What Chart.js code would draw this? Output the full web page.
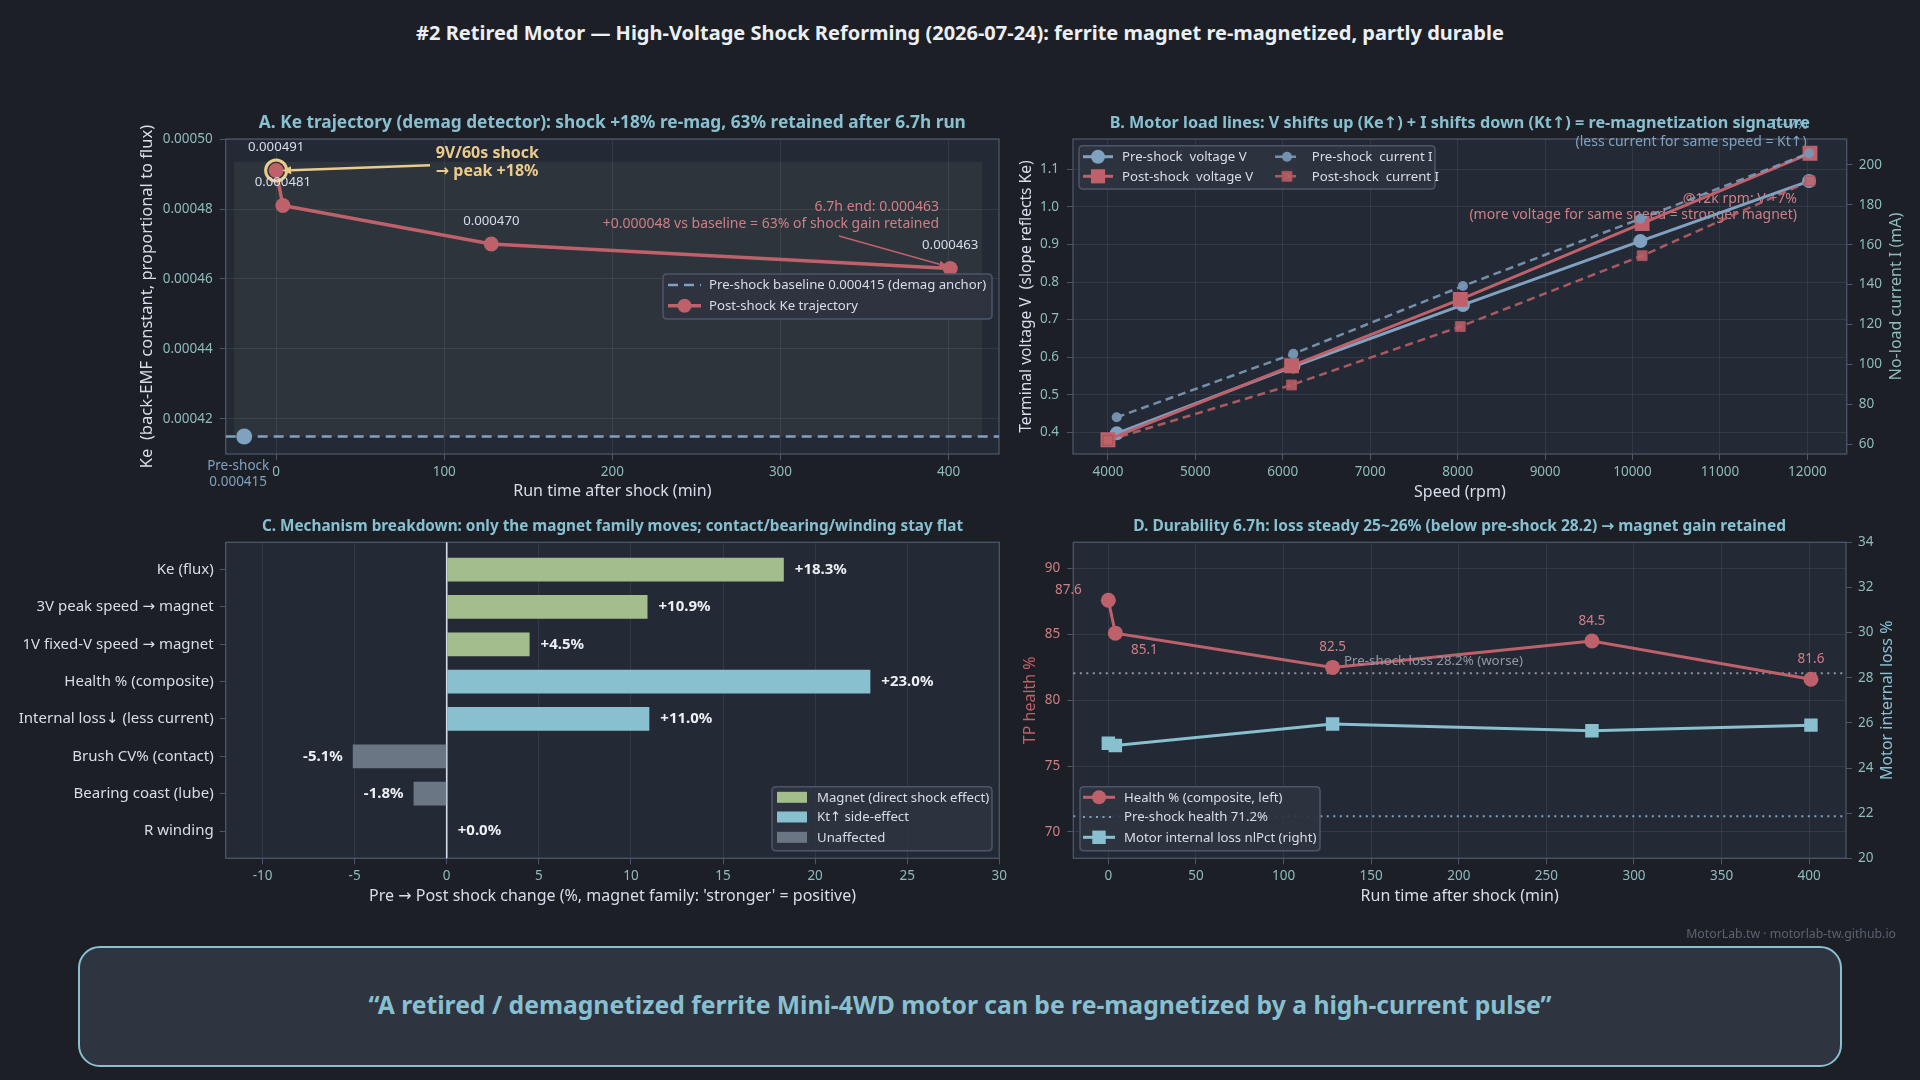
<!DOCTYPE html>
<html><head><meta charset="utf-8">
<script src="https://cdn.jsdelivr.net/npm/chart.js@4.4.1/dist/chart.umd.min.js"></script>
<style>
html,body{margin:0;padding:0;background:#1c1f26;}
#wrap{position:relative;width:1920px;height:1080px;overflow:hidden;font-family:'Noto Sans','DejaVu Sans',sans-serif;}
canvas.layer{position:absolute;left:0;top:0;width:1920px;height:1080px;}
#title{position:absolute;left:0;top:19px;width:1920px;text-align:center;color:#eceff4;font-weight:bold;font-size:20px;line-height:28px;}
#quote{position:absolute;left:78px;top:946px;width:1764px;height:121px;box-sizing:border-box;border:2px solid #88c0d0;border-radius:22px;background:#2e3440;display:flex;align-items:center;justify-content:center;color:#88c0d0;font-weight:bold;font-size:24.7px;padding-bottom:4px;}
#wm{position:absolute;right:24px;top:925px;color:#5c6370;font-size:12.3px;line-height:18px;}
</style></head>
<body><div id="wrap">
<div id="title">#2 Retired Motor — High-Voltage Shock Reforming (2026-07-24): ferrite magnet re-magnetized, partly durable</div>
<canvas class="layer" id="cA" width="1920" height="1080"></canvas>
<canvas class="layer" id="cB" width="1920" height="1080"></canvas>
<canvas class="layer" id="cC" width="1920" height="1080"></canvas>
<canvas class="layer" id="cD" width="1920" height="1080"></canvas>
<div id="wm">MotorLab.tw · motorlab-tw.github.io</div>
<div id="quote">“A retired / demagnetized ferrite Mini-4WD motor can be re-magnetized by a high-current pulse”</div>
</div>
<script>
// ---------------- DATA ----------------
// Panel A: Ke trajectory
const keTimes = [0, 4, 128, 401];
const keValues = [0.000491, 0.000481, 0.000470, 0.000463];
const keBaseline = 0.000415;
const kePreTime = -19;
const keTicksX = [0, 100, 200, 300, 400];
const keTicksY = [0.00042, 0.00044, 0.00046, 0.00048, 0.00050];

// Panel B: load lines
const preSpeed = [4100, 6120, 8060, 10090, 12020];
const postSpeed = [4000, 6100, 8030, 10110, 12030];
const preVolt = [0.397, 0.575, 0.739, 0.909, 1.069];
const postVolt = [0.380, 0.577, 0.754, 0.956, 1.143];
const preCurr = [73.5, 105.3, 139.3, 173.0, 205.9];
const postCurr = [62.0, 89.7, 119.0, 154.5, 192.0];
const speedTicks = [4000, 5000, 6000, 7000, 8000, 9000, 10000, 11000, 12000];
const voltTicks = [0.4, 0.5, 0.6, 0.7, 0.8, 0.9, 1.0, 1.1];
const currTicks = [60, 80, 100, 120, 140, 160, 180, 200];

// Panel C: mechanism breakdown
const mechLabels = ['Ke (flux)', '3V peak speed → magnet', '1V fixed-V speed → magnet', 'Health % (composite)',
  'Internal loss↓ (less current)', 'Brush CV% (contact)', 'Bearing coast (lube)', 'R winding'];
const mechValues = [18.3, 10.9, 4.5, 23.0, 11.0, -5.1, -1.8, 0.0];
const mechGroup = [0, 0, 0, 1, 1, 2, 2, 2];
const groupNames = ['Magnet (direct shock effect)', 'Kt↑ side-effect', 'Unaffected'];
const changeTicks = [-10, -5, 0, 5, 10, 15, 20, 25, 30];

// Panel D: durability
const durTimes = [0, 4, 128, 276, 401];
const healthVals = [87.6, 85.1, 82.5, 84.5, 81.6];
const lossVals = [25.1, 25.0, 25.95, 25.65, 25.9];
const preHealth = 71.2;
const preLoss = 28.2;
const durTicksX = [0, 50, 100, 150, 200, 250, 300, 350, 400];
const healthTicks = [70, 75, 80, 85, 90];
const lossTicks = [20, 22, 24, 26, 28, 30, 32, 34];

// ---------------- STYLE ----------------
const C = {plot:'#242a35', grid:'rgba(216,222,233,0.085)', spine:'#4c566a', tick:'#8fbcbb', axt:'#d8dee9',
  title:'#88c0d0', red:'#bf616a', redTxt:'#cf7f87', blue:'#81a1c1', teal:'#88c0d0', green:'#a3be8c',
  yellow:'#ebcb8b', grey:'#6b7685', legBg:'rgba(46,52,64,0.93)', legBorder:'#4c566a', label:'#d8dee9'};
const groupColors = [C.green, C.teal, C.grey];
const FONT = "'Noto Sans','DejaVu Sans',sans-serif";
const TICK_SIZE = 13.5, AXT_SIZE = 16;
Chart.defaults.font.family = FONT;
Chart.defaults.color = C.axt;

function txt(ctx, s, x, y, o) {
  o = o || {};
  ctx.save();
  ctx.font = (o.bold ? 'bold ' : '') + (o.size || 13) + 'px ' + FONT;
  ctx.fillStyle = o.color || C.label;
  ctx.textAlign = o.align || 'center';
  ctx.textBaseline = o.base || 'middle';
  if (o.rot) { ctx.translate(x, y); ctx.rotate(o.rot); ctx.fillText(s, 0, 0); }
  else ctx.fillText(s, x, y);
  ctx.restore();
}
function arrow(ctx, x1, y1, x2, y2, color, w, head) {
  ctx.save();
  ctx.strokeStyle = color; ctx.fillStyle = color; ctx.lineWidth = w;
  const ang = Math.atan2(y2 - y1, x2 - x1);
  const hx = x2 - Math.cos(ang) * head, hy = y2 - Math.sin(ang) * head;
  ctx.beginPath(); ctx.moveTo(x1, y1); ctx.lineTo(hx, hy); ctx.stroke();
  ctx.beginPath(); ctx.moveTo(x2, y2);
  ctx.lineTo(hx + Math.sin(ang) * head * 0.45, hy - Math.cos(ang) * head * 0.45);
  ctx.lineTo(hx - Math.sin(ang) * head * 0.45, hy + Math.cos(ang) * head * 0.45);
  ctx.closePath(); ctx.fill();
  ctx.restore();
}
function marker(ctx, style, r, x, y, fill, stroke, bw) {
  ctx.save();
  ctx.fillStyle = fill; ctx.strokeStyle = stroke || fill; ctx.lineWidth = bw || 0;
  ctx.beginPath();
  if (style === 'rect') { const s = r * Math.SQRT1_2; ctx.rect(x - s, y - s, 2 * s, 2 * s); }
  else ctx.arc(x, y, r, 0, Math.PI * 2);
  ctx.fill(); if (bw) ctx.stroke();
  ctx.restore();
}
function roundRect(ctx, x, y, w, h, r) {
  ctx.beginPath();
  ctx.moveTo(x + r, y); ctx.lineTo(x + w - r, y); ctx.quadraticCurveTo(x + w, y, x + w, y + r);
  ctx.lineTo(x + w, y + h - r); ctx.quadraticCurveTo(x + w, y + h, x + w - r, y + h);
  ctx.lineTo(x + r, y + h); ctx.quadraticCurveTo(x, y + h, x, y + h - r);
  ctx.lineTo(x, y + r); ctx.quadraticCurveTo(x, y, x + r, y); ctx.closePath();
}

// panel background, frame and panel title
const panelPlugin = {
  id: 'panel',
  beforeDraw(chart, a, o) {
    const {ctx, chartArea: ca} = chart;
    ctx.save(); ctx.fillStyle = C.plot; ctx.fillRect(ca.left, ca.top, ca.width, ca.height); ctx.restore();
  },
  beforeDatasetsDraw(chart, a, o) {
    const {ctx, chartArea: ca} = chart;
    ctx.save(); ctx.strokeStyle = C.spine; ctx.lineWidth = 1.3;
    ctx.strokeRect(ca.left, ca.top, ca.width, ca.height); ctx.restore();
  },
  afterDraw(chart, a, o) {
    const {ctx, chartArea: ca} = chart;
    txt(ctx, o.text, (ca.left + ca.right) / 2, o.y, {bold: true, size: o.size, color: C.title});
    if (o.rightTitle) txt(ctx, o.rightTitle, o.rightX, (ca.top + ca.bottom) / 2, {size: AXT_SIZE, color: o.rightColor, rot: -Math.PI / 2});
  }
};
// boxed legend inside the plot
const boxLegend = {
  id: 'boxLegend',
  afterDraw(chart, a, o) {
    const ctx = chart.ctx;
    ctx.save();
    roundRect(ctx, o.box[0], o.box[1], o.box[2], o.box[3], 4);
    ctx.fillStyle = C.legBg; ctx.fill();
    ctx.strokeStyle = C.legBorder; ctx.lineWidth = 1.5; ctx.stroke();
    ctx.restore();
    o.items.forEach(it => {
      if (it.swatch) {
        ctx.save(); ctx.fillStyle = it.swatch; ctx.fillRect(it.x1, it.y - 5.5, it.x2 - it.x1, 11); ctx.restore();
      } else {
        const ds = chart.data.datasets[it.ds];
        ctx.save();
        ctx.strokeStyle = ds.borderColor; ctx.lineWidth = ds.borderWidth; ctx.setLineDash(ds.borderDash || []);
        ctx.beginPath(); ctx.moveTo(it.x1, it.y); ctx.lineTo(it.x2, it.y); ctx.stroke();
        ctx.restore();
        if (it.mr) marker(ctx, ds.pointStyle, it.mr, (it.x1 + it.x2) / 2, it.y, ds.pointBackgroundColor || ds.borderColor,
          ds.pointBorderColor, ds.pointBorderWidth);
      }
      txt(ctx, it.text || chart.data.datasets[it.ds].label, it.tx, it.y + 0.5, {align: 'left', size: 13.2, color: C.label});
    });
  }
};

function mkAxis(o) {
  return {
    type: 'linear', position: o.position, min: o.min, max: o.max, reverse: !!o.reverse, offset: false,
    afterBuildTicks: s => { s.ticks = o.ticks.map(v => ({value: v})); },
    afterFit: s => { if (o.position === 'bottom') s.height = o.size; else s.width = o.size; },
    grid: {display: true, offset: false, drawOnChartArea: o.grid !== false, color: C.grid, tickColor: C.spine, tickLength: 6, drawTicks: true, lineWidth: 1},
    border: {display: false},
    ticks: {color: o.tickColor || C.tick, font: {size: o.tickSize || TICK_SIZE}, padding: o.pad === undefined ? 5 : o.pad, maxRotation: 0, autoSkip: false,
      callback: o.fmt || (v => String(v))},
    title: o.title ? {display: true, text: o.title, color: o.titleColor || C.axt, font: {size: o.titleSize || AXT_SIZE}, padding: {top: 4, bottom: 4}} : {display: false}
  };
}
const baseOpts = {responsive: false, devicePixelRatio: 1, animation: false, events: []};
const pt = (xs, ys) => xs.map((x, i) => ({x: x, y: ys[i]}));

// ================= PANEL A =================
const A = {L: 225.7, T: 139, R: 999, B: 454, sL: 133.6, sB: 504.7, xmin: -30, xmax: 430, ymin: 0.00041, ymax: 0.00050};
const aNotes = {
  id: 'aNotes',
  beforeDatasetsDraw(chart) {
    const {ctx, scales: {x, y}} = chart;
    ctx.save(); ctx.fillStyle = 'rgba(163,190,140,0.075)';
    const x1 = x.getPixelForValue(-25), x2 = x.getPixelForValue(420);
    const y1 = y.getPixelForValue(0.0004935), y2 = y.getPixelForValue(keBaseline);
    ctx.fillRect(x1, y1, x2 - x1, y2 - y1); ctx.restore();
  },
  afterDatasetsDraw(chart) {
    const {ctx, scales: {x, y}} = chart;
    keTimes.forEach((t, i) => {
      txt(ctx, keValues[i].toFixed(6), x.getPixelForValue(t), y.getPixelForValue(keValues[i]) - 23, {size: 13.2});
    });
    const px = x.getPixelForValue(kePreTime);
    txt(ctx, 'Pre-shock', px - 6, A.B + 12, {size: 13.5, color: C.blue});
    txt(ctx, keBaseline.toFixed(6), px - 6, A.B + 28, {size: 13.5, color: C.blue});
    // shock annotation
    const p0x = x.getPixelForValue(keTimes[0]), p0y = y.getPixelForValue(keValues[0]);
    arrow(ctx, 430, 165.3, p0x + 6, p0y, C.yellow, 2.5, 9);
    const gain = Math.round((keValues[0] / keBaseline - 1) * 100);
    txt(ctx, '9V/60s shock', 435.7, 153, {bold: true, size: 16, color: C.yellow, align: 'left'});
    txt(ctx, '→ peak +' + gain + '%', 435.7, 171, {bold: true, size: 16, color: C.yellow, align: 'left'});
    // end annotation
    const n = keValues.length - 1;
    const end = keValues[n], diff = end - keBaseline;
    const kept = Math.round(diff / (keValues[0] - keBaseline) * 100);
    txt(ctx, '6.7h end: ' + end.toFixed(6), 939, 207, {size: 14, color: C.redTxt, align: 'right'});
    txt(ctx, '+' + diff.toFixed(6) + ' vs baseline = ' + kept + '% of shock gain retained', 939, 223.7, {size: 14, color: C.redTxt, align: 'right'});
    arrow(ctx, 839, 236, x.getPixelForValue(keTimes[n]) - 3, y.getPixelForValue(end) - 2, C.red, 1.6, 8);
  }
};
new Chart(document.getElementById('cA'), {
  type: 'line',
  data: {datasets: [
    {label: 'Pre-shock baseline 0.000415 (demag anchor)', data: [{x: A.xmin, y: keBaseline}, {x: A.xmax, y: keBaseline}],
      borderColor: C.blue, borderWidth: 2.5, borderDash: [10, 6], pointRadius: 0, order: 3},
    {label: 'Pre-shock point', data: [{x: kePreTime, y: keBaseline}], showLine: false, pointRadius: 8,
      pointBackgroundColor: C.blue, pointBorderWidth: 0, order: 2},
    {label: 'Post-shock Ke trajectory', data: pt(keTimes, keValues), borderColor: C.red, backgroundColor: C.red,
      pointBackgroundColor: C.red, borderWidth: 3.5, pointRadius: 7.5, pointBorderWidth: 0, pointStyle: 'circle', order: 1},
    {label: 'Shock peak', data: [{x: keTimes[0], y: keValues[0]}], showLine: false, pointRadius: 10.5, pointBorderWidth: 3,
      pointBorderColor: C.yellow, pointBackgroundColor: 'rgba(0,0,0,0)', order: 0}
  ]},
  options: Object.assign({}, baseOpts, {
    layout: {padding: {left: A.sL, top: A.T, right: 1920 - A.R, bottom: 1080 - A.sB}},
    plugins: {legend: {display: false}, tooltip: {enabled: false},
      panel: {text: 'A. Ke trajectory (demag detector): shock +18% re-mag, 63% retained after 6.7h run', y: 123.3, size: 17.3},
      boxLegend: {box: [663, 274, 329, 45], items: [
        {ds: 0, x1: 668, x2: 701, y: 285, tx: 709},
        {ds: 2, x1: 668, x2: 701, y: 305.7, tx: 709, mr: 7}
      ]}},
    scales: {
      x: mkAxis({position: 'bottom', min: A.xmin, max: A.xmax, ticks: keTicksX, size: A.sB - A.B, pad: 4, title: 'Run time after shock (min)'}),
      y: mkAxis({position: 'left', min: A.ymin, max: A.ymax, ticks: keTicksY, size: A.L - A.sL, pad: 7,
        fmt: v => v.toFixed(5), title: 'Ke  (back-EMF constant, proportional to flux)', titleSize: 16.5})
    }
  }),
  plugins: [panelPlugin, aNotes, boxLegend]
});

// ================= PANEL B =================
const B = {L: 1073, T: 139, R: 1846.7, B: 454, sL: 1013.6, sR: 1908.4, sB: 505.7};
const bNotes = {
  id: 'bNotes',
  beforeDatasetsDraw(chart) {
    const ctx = chart.ctx;
    const n = preVolt.length - 1;
    const dv = Math.round((postVolt[n] / preVolt[n] - 1) * 100);
    const di = Math.round((postCurr[n] / preCurr[n] - 1) * 100);
    txt(ctx, '@12k rpm: V +' + dv + '%', 1797, 199, {size: 14, color: C.redTxt, align: 'right'});
    txt(ctx, '(more voltage for same speed = stronger magnet)', 1797, 215, {size: 14, color: C.redTxt, align: 'right'});
    txt(ctx, 'I −' + Math.abs(di) + '%', 1808, 125, {size: 14, color: C.blue, align: 'right'});
    txt(ctx, '(less current for same speed = Kt↑)', 1806.7, 142.3, {size: 14, color: C.blue, align: 'right'});
  }
};
new Chart(document.getElementById('cB'), {
  type: 'line',
  data: {datasets: [
    {label: 'Pre-shock  voltage V', data: pt(preSpeed, preVolt), yAxisID: 'y', borderColor: C.blue, pointBackgroundColor: C.blue,
      borderWidth: 3, pointRadius: 7, pointBorderWidth: 0, pointStyle: 'circle', order: 3},
    {label: 'Post-shock  voltage V', data: pt(postSpeed, postVolt), yAxisID: 'y', borderColor: C.red, pointBackgroundColor: C.red,
      borderWidth: 3, pointRadius: 10.5, pointBorderWidth: 0, pointStyle: 'rect', order: 2},
    {label: 'Pre-shock  current I', data: pt(preSpeed, preCurr), yAxisID: 'y2', borderColor: 'rgba(129,161,193,0.85)',
      pointBackgroundColor: 'rgba(120,150,182,0.95)', borderWidth: 2.5, borderDash: [8, 5], pointRadius: 5, pointBorderWidth: 0, pointStyle: 'circle', order: 1},
    {label: 'Post-shock  current I', data: pt(postSpeed, postCurr), yAxisID: 'y2', borderColor: 'rgba(191,97,106,0.85)',
      pointBackgroundColor: 'rgba(191,97,106,0.85)', pointBorderColor: '#a5505a', borderWidth: 2.5, borderDash: [8, 5],
      pointRadius: 7, pointBorderWidth: 1, pointStyle: 'rect', order: 0}
  ]},
  options: Object.assign({}, baseOpts, {
    layout: {padding: {left: B.sL, top: B.T, right: 1920 - B.sR, bottom: 1080 - B.sB}},
    plugins: {legend: {display: false}, tooltip: {enabled: false},
      panel: {text: 'B. Motor load lines: V shifts up (Ke↑) + I shifts down (Kt↑) = re-magnetization signature', y: 123.3, size: 16.2,
        rightTitle: 'No-load current I (mA)', rightX: 1896, rightColor: C.tick},
      boxLegend: {box: [1079, 145.7, 356, 43.3], items: [
        {ds: 0, x1: 1083, x2: 1113, y: 156.7, tx: 1122, mr: 7},
        {ds: 1, x1: 1083, x2: 1113, y: 176.3, tx: 1122, mr: 10},
        {ds: 2, x1: 1275, x2: 1299, y: 156.7, tx: 1311.7, mr: 5},
        {ds: 3, x1: 1275, x2: 1299, y: 176.3, tx: 1311.7, mr: 7}
      ]}},
    scales: {
      x: mkAxis({position: 'bottom', min: 3600, max: 12450, ticks: speedTicks, size: B.sB - B.B, pad: 4, title: 'Speed (rpm)'}),
      y: mkAxis({position: 'left', min: 0.342, max: 1.181, ticks: voltTicks, size: B.L - B.sL, pad: 8,
        fmt: v => v.toFixed(1), title: 'Terminal voltage V  (slope reflects Ke)', titleSize: 15.6}),
      y2: mkAxis({position: 'right', min: 55.1, max: 213, ticks: currTicks, size: B.sR - B.R, pad: 6, grid: false})
    }
  }),
  plugins: [panelPlugin, bNotes, boxLegend]
});

// ================= PANEL C =================
const CC = {L: 225.7, T: 542.3, R: 999.3, B: 858.3, sL: 0, sB: 909.7};
const cNotes = {
  id: 'cNotes',
  beforeDatasetsDraw(chart) {
    const {ctx, scales: {x}, chartArea: ca} = chart;
    ctx.save(); ctx.strokeStyle = '#d8dee9'; ctx.lineWidth = 1.6;
    const x0 = x.getPixelForValue(0);
    ctx.beginPath(); ctx.moveTo(x0, ca.top); ctx.lineTo(x0, ca.bottom); ctx.stroke(); ctx.restore();
  },
  afterDatasetsDraw(chart) {
    const {ctx, scales: {x, y}} = chart;
    mechValues.forEach((v, i) => {
      const s = (v >= 0 ? '+' : '') + v.toFixed(1) + '%';
      const px = x.getPixelForValue(v), py = y.getPixelForValue(i);
      if (v >= 0) txt(ctx, s, px + 11, py, {bold: true, size: 15, color: '#eceff4', align: 'left'});
      else txt(ctx, s, px - 10, py, {bold: true, size: 15, color: '#eceff4', align: 'right'});
    });
  }
};
new Chart(document.getElementById('cC'), {
  type: 'bar',
  data: {datasets: [
    {label: 'Pre → Post shock change (%)', data: mechValues.map((v, i) => ({x: v, y: i})),
      backgroundColor: mechGroup.map(g => groupColors[g]), borderWidth: 0, barPercentage: 0.635, categoryPercentage: 1}
  ]},
  options: Object.assign({}, baseOpts, {
    indexAxis: 'y',
    layout: {padding: {left: CC.sL, top: CC.T, right: 1920 - CC.R, bottom: 1080 - CC.sB}},
    plugins: {legend: {display: false}, tooltip: {enabled: false},
      panel: {text: 'C. Mechanism breakdown: only the magnet family moves; contact/bearing/winding stay flat', y: 526.7, size: 15.3},
      boxLegend: {box: [772, 786.7, 220, 64], items: groupNames.map((g, k) => (
        {swatch: groupColors[k], text: g, x1: 777, x2: 807, y: [797.3, 817, 837.3][k], tx: 817}))}},
    scales: {
      x: mkAxis({position: 'bottom', min: -12, max: 30, ticks: changeTicks, size: CC.sB - CC.B, pad: 4,
        title: "Pre → Post shock change (%, magnet family: 'stronger' = positive)"}),
      y: mkAxis({position: 'left', min: -0.73, max: 7.73, reverse: true, ticks: mechLabels.map((_, i) => i),
        size: CC.L - CC.sL, pad: 6, grid: false, tickColor: C.label, tickSize: 15, fmt: v => mechLabels[v]})
    }
  }),
  plugins: [panelPlugin, cNotes, boxLegend]
});

// ================= PANEL D =================
const D = {L: 1073.3, T: 542.3, R: 1846, B: 858.3, sL: 1017, sR: 1900, sB: 909.7, xmin: -20, xmax: 421};
const labelOffsets = [[-40, -10], [29, 17], [0, -20], [0, -19.5], [0, -19.6]];
const dNotes = {
  id: 'dNotes',
  afterDatasetsDraw(chart) {
    const {ctx, scales: {x, y}} = chart;
    healthVals.forEach((v, i) => {
      const o = labelOffsets[i];
      txt(ctx, v.toFixed(1), x.getPixelForValue(durTimes[i]) + o[0], y.getPixelForValue(v) + o[1], {size: 13.5, color: C.redTxt});
    });
    txt(ctx, 'Pre-shock loss ' + preLoss.toFixed(1) + '% (worse)', 1344, 661.7, {size: 13.3, color: '#8f98a4', align: 'left'});
  }
};
new Chart(document.getElementById('cD'), {
  type: 'line',
  data: {datasets: [
    {label: 'Health % (composite, left)', data: pt(durTimes, healthVals), yAxisID: 'y', borderColor: C.red, pointBackgroundColor: C.red,
      borderWidth: 3, pointRadius: 7.5, pointBorderWidth: 0, pointStyle: 'circle', order: 0},
    {label: 'Pre-shock health 71.2%', data: [{x: D.xmin, y: preHealth}, {x: D.xmax, y: preHealth}], yAxisID: 'y',
      borderColor: C.blue, borderWidth: 2, borderDash: [2, 4.5], pointRadius: 0, order: 3},
    {label: 'Motor internal loss nlPct (right)', data: pt(durTimes, lossVals), yAxisID: 'y2', borderColor: C.teal, pointBackgroundColor: C.teal,
      borderWidth: 3, pointRadius: 9.5, pointBorderWidth: 0, pointStyle: 'rect', order: 1},
    {label: 'Pre-shock loss', data: [{x: D.xmin, y: preLoss}, {x: D.xmax, y: preLoss}], yAxisID: 'y2',
      borderColor: 'rgba(216,222,233,0.6)', borderWidth: 2, borderDash: [2, 4.5], pointRadius: 0, order: 2}
  ]},
  options: Object.assign({}, baseOpts, {
    layout: {padding: {left: D.sL, top: D.T, right: 1920 - D.sR, bottom: 1080 - D.sB}},
    plugins: {legend: {display: false}, tooltip: {enabled: false},
      panel: {text: 'D. Durability 6.7h: loss steady 25~26% (below pre-shock 28.2) → magnet gain retained', y: 526.7, size: 15.5,
        rightTitle: 'Motor internal loss %', rightX: 1887.7, rightColor: C.teal},
      boxLegend: {box: [1080, 786.7, 240, 64], items: [
        {ds: 0, x1: 1083, x2: 1115, y: 797.3, tx: 1124, mr: 7},
        {ds: 1, x1: 1083, x2: 1115, y: 817, tx: 1124},
        {ds: 2, x1: 1083, x2: 1115, y: 837.3, tx: 1124, mr: 9.5}
      ]}},
    scales: {
      x: mkAxis({position: 'bottom', min: D.xmin, max: D.xmax, ticks: durTicksX, size: D.sB - D.B, pad: 4, title: 'Run time after shock (min)'}),
      y: mkAxis({position: 'left', min: 68, max: 92, ticks: healthTicks, size: D.L - D.sL, pad: 7, tickColor: C.redTxt,
        title: 'TP health %', titleColor: C.red}),
      y2: mkAxis({position: 'right', min: 20, max: 34, ticks: lossTicks, size: D.sR - D.R, pad: 6, grid: false})
    }
  }),
  plugins: [panelPlugin, dNotes, boxLegend]
});
</script>
</body></html>
